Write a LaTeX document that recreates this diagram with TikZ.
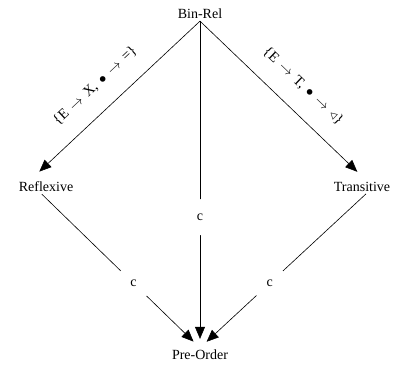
\documentclass[tikz,border=0pt]{standalone}
\usepackage{fontspec}
\setmainfont{Liberation Serif}
\usetikzlibrary{arrows.meta,positioning}
\newcommand{\gap}{\hspace{5.5pt}}

\begin{document}
\begin{tikzpicture}[x=1pt,y=-1pt,>={Triangle[length=12pt,width=10pt]},
      lbl/.style={inner sep=2pt,font=\fontsize{14}{16}\selectfont},
      e/.style={draw=black,line width=0.6pt,->},
      cut/.style={circle,fill=white,minimum size=36pt,inner sep=0pt,font=\fontsize{14}{16}\selectfont},
      rel/.style={sloped,above=16pt,inner sep=2pt,font=\fontsize{14.5}{16}\selectfont}]
    \useasboundingbox (0,0) rectangle (408,370);
    % nodes
    \node[lbl] (binrel) at (200,14) {Bin-Rel};
    \node[lbl] (refl) at (46,187) {Reflexive};
    \node[lbl] (trans) at (362,187) {Transitive};
    \node[lbl] (preorder) at (200,355) {Pre-Order};
    % edges from the top
    \draw[e,shorten >=12pt] (binrel.south) -- (refl.155)
      node[rel,pos=0.52] {\{E\gap$\to$\gap X,\gap$\bullet$\gap$\to$\gap=\}};
    \draw[e,shorten >=12pt] (binrel.south) -- (trans.60)
      node[rel,pos=0.52] {\{E\gap$\to$\gap T,\gap$\bullet$\gap$\to$\gap$\triangleleft$\}};
    \draw[e,shorten >=9pt] (binrel.south) -- (preorder.north)
      node[cut,pos=0.6] {c};
    % edges into Pre-Order
    \draw[e,shorten >=9pt] (refl.-120) -- (preorder.north)
      node[cut,pos=0.58] {c};
    \draw[e,shorten >=9pt] (trans.-60) -- (preorder.north)
      node[cut,pos=0.58] {c};
  \end{tikzpicture}
\end{document}
